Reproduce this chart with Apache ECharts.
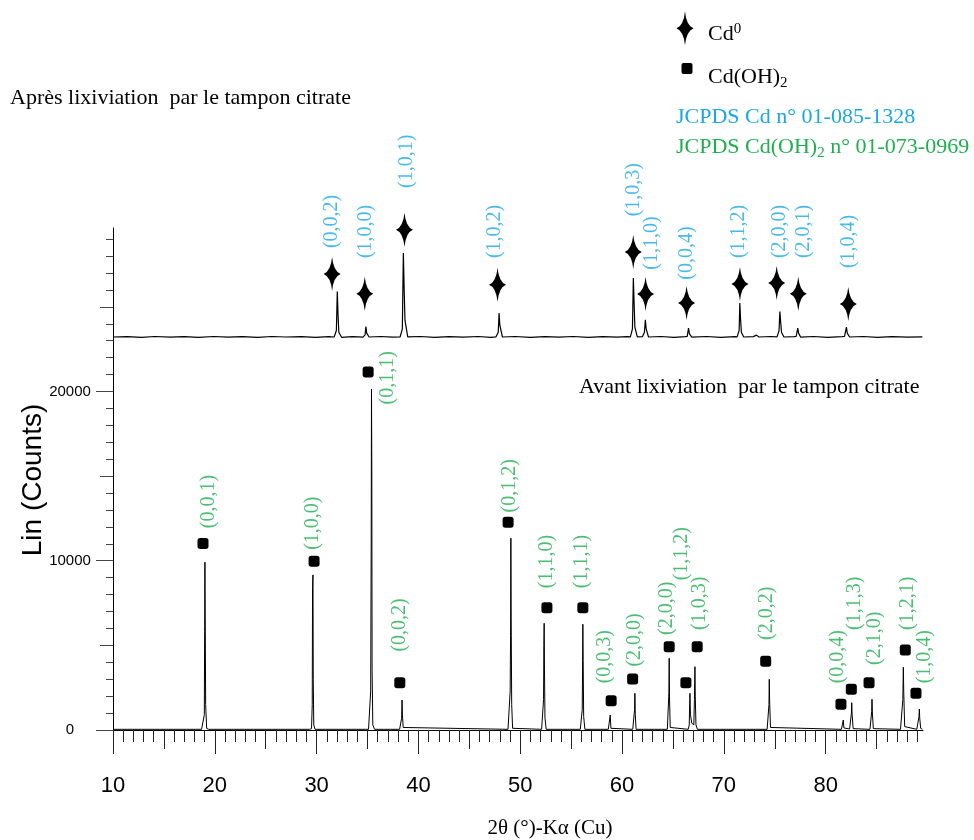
<!DOCTYPE html>
<html>
<head>
<meta charset="utf-8">
<script src="https://cdn.jsdelivr.net/npm/echarts@6/dist/echarts.min.js"></script>
<style>
html,body{margin:0;padding:0;background:#fff;}
#chart{width:974px;height:840px;}
</style>
</head>
<body>
<div id="chart"></div>
<script>
// ---- Data (2θ in degrees, intensity in counts) ----
// Upper pattern (after leaching) – plotted with its own offset baseline
const upperTrace = [
 [10.0,23220],[11.4,23240],[12.8,23200],[14.1,23250],[15.6,23210],[17.0,23240],[18.4,23200],[19.9,23250],
 [21.3,23210],[22.7,23240],[24.2,23200],[25.6,23250],[27.0,23220],[28.5,23240],[29.9,23200],[31.2,23240],
 [31.72,23220],[31.94,23600],[32.03,25912],[32.10,24600],[32.18,23500],[32.45,23200],
 [33.5,23240],
 [34.55,23210],[34.76,23350],[34.84,23843],[34.92,23450],[35.15,23220],
 [36.3,23250],[37.5,23210],
 [38.2,23220],[38.42,23700],[38.52,28182],[38.60,26000],[38.68,24200],[38.95,23230],
 [40.2,23250],[41.6,23200],[43.0,23240],[44.4,23210],[45.9,23250],[47.1,23200],
 [47.62,23230],[47.84,23500],[47.92,24635],[48.00,23900],[48.25,23220],
 [49.5,23250],[51.0,23200],[52.4,23240],[53.8,23210],[55.2,23250],[56.7,23200],[58.1,23240],[59.5,23210],[60.5,23240],
 [60.82,23230],[61.02,23700],[61.11,26704],[61.18,25300],[61.26,23800],[61.5,23230],
 [62.0,23240],[62.2,23500],[62.29,24239],[62.37,23700],[62.6,23220],
 [63.8,23250],[65.1,23200],[66.2,23240],
 [66.4,23260],[66.53,23748],[66.62,23400],[66.85,23210],
 [68.3,23250],[69.7,23200],[71.1,23240],
 [71.3,23230],[71.5,23600],[71.57,25226],[71.64,24300],[71.72,23500],[71.95,23220],
 [72.9,23240],[73.2,23330],[73.45,23220],[74.6,23250],
 [75.22,23230],[75.42,23600],[75.50,24730],[75.58,24100],[75.66,23500],[75.9,23220],
 [76.9,23240],
 [77.1,23250],[77.26,23748],[77.34,23450],[77.55,23210],
 [78.8,23250],[80.2,23200],[81.6,23240],
 [81.85,23250],[82.04,23807],[82.12,23450],[82.35,23220],
 [83.7,23250],[85.1,23200],[86.5,23240],[88.0,23210],[89.5,23230]
];

// Lower pattern (before leaching)
const lowerTrace = [
 [10.0,40],[18.7,40],
 [18.88,80],[18.97,900],[19.00,5800],[19.03,9914],[19.06,6500],[19.10,1500],[19.2,100],[19.4,40],
 [29.3,40],
 [29.5,80],[29.57,1500],[29.60,8400],[29.64,9164],[29.67,3000],[29.72,300],[29.85,40],
 [35.1,40],
 [35.22,100],[35.31,2300],[35.36,11000],[35.39,20142],[35.42,15500],[35.45,3500],[35.52,300],[35.7,40],
 [38.15,40],
 [38.28,80],[38.35,700],[38.39,1774],[38.43,900],[38.5,150],[38.65,40],
 [48.8,40],
 [48.93,120],[49.01,2300],[49.05,5600],[49.08,11333],[49.11,6500],[49.16,1500],[49.25,100],[49.4,40],
 [52.1,40],
 [52.22,100],[52.29,1800],[52.32,5000],[52.35,6308],[52.38,3600],[52.43,700],[52.55,40],
 [55.9,40],
 [56.02,100],[56.09,1200],[56.12,3600],[56.15,6249],[56.18,4100],[56.23,800],[56.35,40],
 [58.65,40],
 [58.77,80],[58.84,887],[58.91,100],[59.05,40],
 [61.05,40],
 [61.17,100],[61.23,1200],[61.26,2170],[61.3,900],[61.38,40],
 [64.45,40],
 [64.54,100],[64.6,2200],[64.63,4239],[64.66,2000],[64.73,150],[64.85,40],
 [66.5,40],
 [66.6,300],[66.65,1800],[66.67,2170],[66.72,900],[66.85,400],
 [67.05,300],[67.11,1800],[67.16,3742],[67.19,2000],[67.26,300],[67.4,40],
 [74.25,40],
 [74.36,120],[74.43,1500],[74.46,2997],[74.5,1600],[74.58,150],[74.7,40],
 [81.55,40],
 [81.67,100],[81.73,591],[81.79,120],[82.35,60],
 [82.47,150],[82.53,1000],[82.56,1614],[82.6,900],[82.7,80],
 [84.35,40],
 [84.47,150],[84.52,1100],[84.55,1815],[84.59,1000],[84.68,80],[87.35,40],
 [87.5,150],[87.58,1800],[87.63,3707],[87.67,2200],[87.76,200],[88.95,40],
 [89.1,150],[89.17,800],[89.20,1241],[89.24,700],[89.33,100],[89.5,40]
];

// Cd (JCPDS 01-085-1328) reflections: star markers and (hkl) labels
const cdHkl    = ['(0,0,2)','(1,0,0)','(1,0,1)','(1,0,2)','(1,0,3)','(1,1,0)','(0,0,4)','(1,1,2)','(2,0,0)','(2,0,1)','(1,0,4)'];
const cdStarX  = [31.52,34.73,38.63,47.77,61.10,62.31,66.34,71.58,75.19,77.31,82.22];
const cdStarY  = [26941,25776,29560,26308,28241,25758,25226,26350,26409,25776,25167];
const cdLabelX = [31.52,34.80,38.83,47.51,61.16,62.90,66.40,71.51,75.51,77.80,82.22];
const cdLabelY = [30051,29459,33598,29459,31924,28773,28182,29459,29459,29459,28868];

// Cd(OH)2 (JCPDS 01-073-0969) reflections: square markers and (hkl) labels
const ohHkl    = ['(0,0,1)','(1,0,0)','(0,1,1)','(0,0,2)','(0,1,2)','(1,1,0)','(1,1,1)','(0,0,3)','(2,0,0)','(2,0,0)','(1,1,2)','(1,0,3)','(2,0,2)','(0,0,4)','(1,1,3)','(2,1,0)','(1,2,1)','(1,0,4)'];
const ohMarkX  = [18.84,29.75,35.06,38.17,48.81,52.62,56.15,58.93,61.04,64.63,66.27,67.38,74.11,81.50,82.52,84.26,87.82,88.87];
const ohMarkY  = [11014,9973,21147,2796,12279,7230,7230,1732,3015,4925,2796,4925,4061,1519,2406,2796,4730,2170];
const ohLabelX = [19.40,29.59,36.96,38.17,48.98,52.59,56.03,58.31,61.26,64.38,65.85,67.65,74.26,81.18,82.81,84.78,88.06,89.69];
const ohLabelY = [13497,12220,20810,6208,14425,9950,9950,4333,5321,7195,10418,7490,6899,4333,7490,5421,7490,4333];

// Axis ticks
const xMajorTicks = [10,20,30,40,50,60,70,80];
const xMidTicks = [15,25,35,45,55,65,75,85];
const xMinorTicks = [11,12,13,14,16,17,18,19,21,22,23,24,26,27,28,29,31,32,33,34,36,37,38,39,41,42,43,44,46,47,48,49,51,52,53,54,56,57,58,59,61,62,63,64,66,67,68,69,71,72,73,74,76,77,78,79,81,82,83,84,86,87,88,89];
const yMajorTicks = [0,10000,20000];
const yMidTicks = [5000,15000,25000];
const yMinorTicks = [1000,2000,3000,4000,6000,7000,8000,9000,11000,12000,13000,14000,16000,17000,18000,19000,21000,22000,23000,24000,26000,27000,28000,29000];

// ---- Chart ----
const BLUE = '#1ba7e5';
const GREEN = '#1fae50';
const SERIF = '"Liberation Serif", "Times New Roman", serif';
const SANS = '"Liberation Sans", Arial, sans-serif';
const STAR = 'path://M50,0 Q58,42 100,50 Q58,58 50,100 Q42,58 0,50 Q42,42 50,0 Z';
const X_MIN = 10, X_MAX = 89.56, Y_MIN = 0, Y_MAX = 29660;

function xAx(ticks, len, withLine, withLabels) {
  return {
    type: 'value', gridIndex: 0, position: 'bottom', min: X_MIN, max: X_MAX,
    axisLine: { show: withLine, onZero: false, lineStyle: { color: '#000', width: 1 } },
    axisTick: { show: true, inside: false, length: len, customValues: ticks, lineStyle: { color: '#222', width: 1 } },
    axisLabel: withLabels ? { show: true, customValues: ticks, margin: 45, color: '#000', fontSize: 22, fontFamily: SANS } : { show: false },
    splitLine: { show: false }
  };
}
function yAx(ticks, len, withLine, withLabels) {
  return {
    type: 'value', gridIndex: 0, position: 'left', min: Y_MIN, max: Y_MAX,
    axisLine: { show: withLine, onZero: false, lineStyle: { color: '#000', width: 1 } },
    axisTick: { show: true, inside: false, length: len, customValues: ticks, lineStyle: { color: '#444', width: 1 } },
    axisLabel: withLabels ? { show: true, customValues: ticks, margin: 43, align: 'center', color: '#000', fontSize: 15, fontFamily: SANS,
      formatter: function (v) { return String(v); } } : { show: false },
    splitLine: { show: false }
  };
}

const chart = echarts.init(document.getElementById('chart'), null, { renderer: 'canvas' });

const cdStars = cdStarX.map((x, i) => [x, cdStarY[i]]);
const cdLabels = cdHkl.map((t, i) => ({ name: t, value: [cdLabelX[i], cdLabelY[i]] }));
const ohMarks = ohMarkX.map((x, i) => [x, ohMarkY[i]]);
const ohLabels = ohHkl.map((t, i) => ({ name: t, value: [ohLabelX[i], ohLabelY[i]] }));

const rich = {
  m: { fontSize: 22, fontFamily: SERIF, lineHeight: 26 },
  sub: { fontSize: 15, fontFamily: SERIF, lineHeight: 10, verticalAlign: 'bottom' },
  sup: { fontSize: 15, fontFamily: SERIF, lineHeight: 10, verticalAlign: 'top' }
};

// legend star (same concave four-point star as the plot markers) centred at (685, 28.3), 17 x 34 px
const LCX = 685, LCY = 28.3;
const legendStar = [
  [LCX, LCY - 17], [LCX + 1.0, LCY - 10.6], [LCX + 2.8, LCY - 5.6], [LCX + 5.3, LCY - 2.1], [LCX + 8.5, LCY],
  [LCX + 5.3, LCY + 2.1], [LCX + 2.8, LCY + 5.6], [LCX + 1.0, LCY + 10.6], [LCX, LCY + 17],
  [LCX - 1.0, LCY + 10.6], [LCX - 2.8, LCY + 5.6], [LCX - 5.3, LCY + 2.1], [LCX - 8.5, LCY],
  [LCX - 5.3, LCY - 2.1], [LCX - 2.8, LCY - 5.6], [LCX - 1.0, LCY - 10.6]
];

chart.setOption({
  animation: false,
  backgroundColor: '#fff',
  grid: { left: 113, right: 51, top: 228, bottom: 110, containLabel: false },
  xAxis: [
    xAx(xMajorTicks, 24, true, true),
    xAx(xMidTicks, 19, false, false),
    xAx(xMinorTicks, 12, false, false)
  ],
  yAxis: [
    yAx(yMajorTicks, 17, true, true),
    yAx(yMidTicks, 13, false, false),
    yAx(yMinorTicks, 7, false, false)
  ],
  series: [
    { type: 'line', name: 'after', data: upperTrace, showSymbol: false, symbol: 'none',
      lineStyle: { color: '#000', width: 1.2 }, clip: false, z: 3 },
    { type: 'line', name: 'before', data: lowerTrace, showSymbol: false, symbol: 'none',
      lineStyle: { color: '#000', width: 1 }, clip: false, z: 3 },
    { type: 'scatter', name: 'Cd0', data: cdStars, symbol: STAR, symbolSize: [17, 34],
      itemStyle: { color: '#000', opacity: 1 }, clip: false, z: 4 },
    { type: 'scatter', name: 'CdLabels', data: cdLabels, symbolSize: 0, clip: false, z: 5,
      label: { show: true, position: 'inside', rotate: 90, formatter: '{b}', color: BLUE, fontSize: 20, fontFamily: SERIF } },
    { type: 'scatter', name: 'CdOH2', data: ohMarks, symbol: 'roundRect', symbolSize: 11,
      itemStyle: { color: '#000', opacity: 1 }, clip: false, z: 4 },
    { type: 'scatter', name: 'OHLabels', data: ohLabels, symbolSize: 0, clip: false, z: 5,
      label: { show: true, position: 'inside', rotate: 90, formatter: '{b}', color: GREEN, fontSize: 20, fontFamily: SERIF } }
  ],
  graphic: [
    { type: 'text', x: 10, y: 98.6, style: { text: 'Après lixiviation  par le tampon citrate', font: '22px ' + SERIF, fill: '#000', verticalAlign: 'middle' } },
    { type: 'text', x: 579, y: 387.6, style: { text: 'Avant lixiviation  par le tampon citrate', font: '22px ' + SERIF, fill: '#000', verticalAlign: 'middle' } },
    { type: 'polygon', shape: { points: legendStar }, style: { fill: '#000' } },
    { type: 'text', x: 708, y: 34.3, style: { text: '{m|Cd}{sup|0}', rich: rich, fill: '#000', verticalAlign: 'middle' } },
    { type: 'rect', shape: { x: 681.5, y: 63, width: 11, height: 11, r: 2 }, style: { fill: '#000' } },
    { type: 'text', x: 708, y: 77.6, style: { text: '{m|Cd(OH)}{sub|2}', rich: rich, fill: '#000', verticalAlign: 'middle' } },
    { type: 'text', x: 676, y: 117.6, style: { text: 'JCPDS Cd n° 01-085-1328', font: '22px ' + SERIF, fill: BLUE, verticalAlign: 'middle' } },
    { type: 'text', x: 676, y: 147.6, style: { text: '{m|JCPDS Cd(OH)}{sub|2}{m| n° 01-073-0969}', rich: rich, fill: GREEN, verticalAlign: 'middle' } },
    { type: 'text', x: 550, y: 828.6, style: { text: '2θ (°)-Kα (Cu)', font: '21px ' + SERIF, fill: '#000', align: 'center', verticalAlign: 'middle' } },
    { type: 'text', x: 33, y: 480, rotation: Math.PI / 2, style: { text: 'Lin (Counts)', font: '28px ' + SANS, fill: '#000', align: 'center', verticalAlign: 'middle' } }
  ]
});
</script>
</body>
</html>
